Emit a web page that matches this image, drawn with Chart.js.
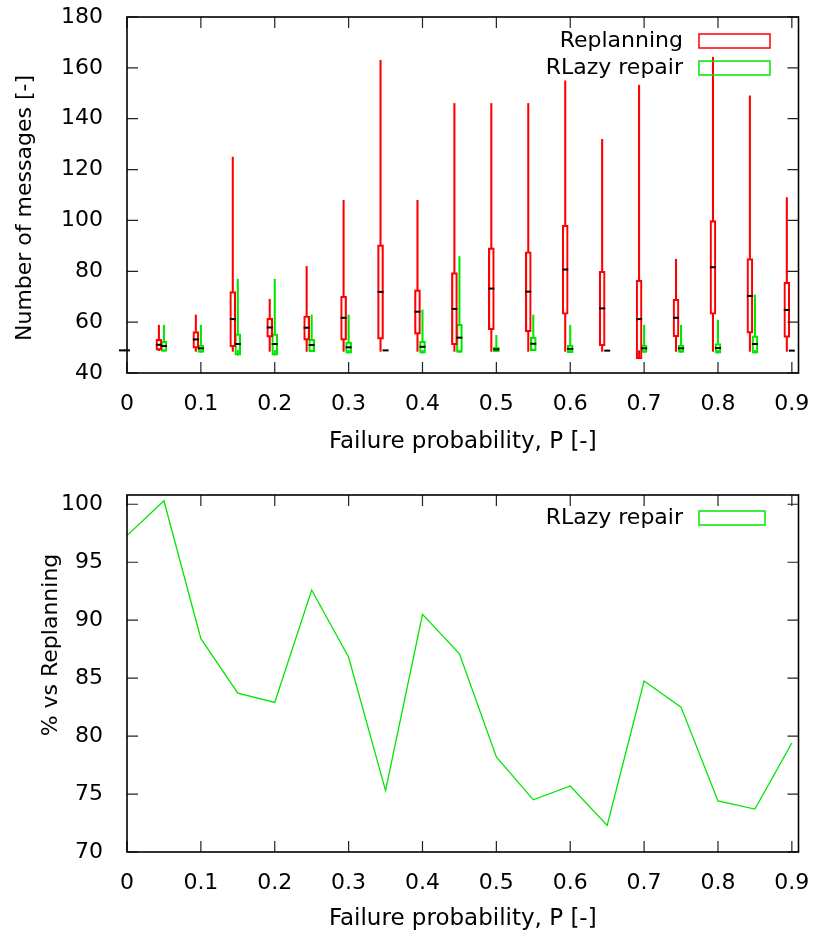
<!DOCTYPE html>
<html>
<head>
<meta charset="utf-8">
<script src="https://cdn.jsdelivr.net/npm/chart.js@4"></script>
<style>
  html, body { margin: 0; padding: 0; background: #fff; }
  #wrap { position: relative; width: 815px; height: 934px; }
  .panel { position: absolute; left: 0; width: 815px; }
  #top { top: 0; height: 460px; }
  #bottom { top: 460px; height: 474px; }
</style>
</head>
<body>
<div id="wrap">
  <div class="panel" id="top"><canvas id="msgChart"></canvas></div>
  <div class="panel" id="bottom"><canvas id="pctChart"></canvas></div>
</div>
<script>
// failure probabilities (x)
const probs = [0, 0.05, 0.1, 0.15, 0.2, 0.25, 0.3, 0.35, 0.4, 0.45, 0.5, 0.55, 0.6, 0.65, 0.7, 0.75, 0.8, 0.85, 0.9];
const xTicks = [0, 0.1, 0.2, 0.3, 0.4, 0.5, 0.6, 0.7, 0.8, 0.9];
const msgTicks = [40, 60, 80, 100, 120, 140, 160, 180];
const pctTicks = [70, 75, 80, 85, 90, 95, 100];

// Replanning: whisker min, box low, median, box high, whisker max
const replanMin = [48.9, 48.8, 48.5, 48.5, 48.5, 48.5, 48.5, 48.5, 48.5, 48.5, 48.5, 48.5, 48.5, 48.5, 48.8, 48.5, 48.5, 48.5, 48.5];
const replanQ1  = [48.9, 49.0, 49.8, 50.3, 54.1, 52.9, 52.9, 53.3, 55.3, 51.1, 57.0, 56.2, 63.1, 50.7, 45.6, 54.2, 63.1, 55.7, 54.0];
const replanMed = [48.9, 51.1, 53.2, 61.2, 57.9, 57.8, 61.7, 71.9, 64.1, 65.2, 73.2, 72.0, 80.7, 65.4, 61.2, 61.7, 81.6, 70.3, 64.8];
const replanQ3  = [48.9, 53.2, 56.3, 72.0, 61.6, 62.4, 70.2, 90.4, 72.7, 79.5, 89.2, 87.7, 98.1, 80.0, 76.5, 69.0, 99.9, 85.0, 75.7];
const replanMax = [48.9, 58.8, 62.8, 124.9, 69.0, 81.9, 107.9, 163.0, 107.9, 146.0, 146.0, 146.0, 154.9, 131.9, 153.2, 84.7, 164.2, 149.0, 109.0];

// RLazy repair
const lazyMin = [48.9, 48.9, 48.9, 48.9, 48.9, 48.9, 48.9, 48.9, 48.9, 48.9, 48.9, 48.9, 48.9, 48.8, 48.9, 48.9, 48.9, 48.9, 48.8];
const lazyQ1  = [48.9, 48.5, 48.1, 47.0, 47.0, 48.4, 47.8, 48.9, 47.8, 48.1, 48.4, 48.8, 48.0, 48.8, 48.1, 48.1, 47.8, 47.8, 48.8];
const lazyMed = [48.9, 50.6, 49.7, 51.4, 51.4, 51.0, 50.1, 48.9, 50.3, 53.9, 49.3, 51.5, 49.5, 48.8, 49.7, 49.7, 49.8, 51.4, 48.8];
const lazyQ3  = [48.9, 52.5, 51.0, 55.4, 55.4, 53.3, 52.2, 48.9, 52.5, 59.2, 50.2, 54.1, 51.0, 48.8, 51.0, 51.0, 51.6, 54.6, 48.8];
const lazyMax = [48.9, 58.8, 58.8, 76.9, 76.9, 62.8, 62.8, 48.9, 64.8, 85.8, 54.8, 62.8, 58.8, 48.8, 58.8, 58.8, 60.8, 70.7, 48.8];

// RLazy repair messages as % of Replanning
const pctLazy = [97.3, 100.3, 88.4, 83.7, 82.9, 92.6, 86.8, 75.3, 90.5, 87.1, 78.2, 74.5, 75.7, 72.3, 84.75, 82.5, 74.4, 73.7, 79.4];

const RED = '#ff0000';
const GREEN = '#00e600';
const RED_SHIFT = -0.0068;   // replanning boxes sit a bit left of the tick
const FONT = "'DejaVu Sans', sans-serif";

Chart.defaults.font.family = FONT;
Chart.defaults.font.size = 22;
Chart.defaults.color = '#000';

function floatBars(lo, hi, shift) {
  return probs.map((p, i) => ({x: p + shift, y: [lo[i], hi[i]]}));
}

// gnuplot-like frame with inward ticks on all four sides, medians, key, y label
const gnuFrame = {
  id: 'gnuFrame',
  afterDatasetsDraw(chart, args, opts) {
    const {ctx, scales: {x, y}} = chart;
    ctx.save();
    ctx.strokeStyle = '#000';
    ctx.lineWidth = 2;
    (opts.medians || []).forEach(s => {
      s.values.forEach((v, i) => {
        const px = x.getPixelForValue(probs[i] + s.shift);
        const py = y.getPixelForValue(v);
        ctx.beginPath();
        ctx.moveTo(px - 3, py);
        ctx.lineTo(px + 3, py);
        ctx.stroke();
      });
    });
    ctx.restore();
  },
  afterDraw(chart, args, opts) {
    const {ctx, chartArea: a, scales: {x, y}} = chart;
    ctx.save();
    ctx.strokeStyle = '#222';
    ctx.lineWidth = 1.2;
    ctx.beginPath();
    x.ticks.forEach(t => {
      const px = x.getPixelForValue(t.value);
      ctx.moveTo(px, a.bottom); ctx.lineTo(px, a.bottom - 11);
      ctx.moveTo(px, a.top); ctx.lineTo(px, a.top + 11);
    });
    y.ticks.forEach(t => {
      const py = y.getPixelForValue(t.value);
      ctx.moveTo(a.left, py); ctx.lineTo(a.left + 11, py);
      ctx.moveTo(a.right, py); ctx.lineTo(a.right - 11, py);
    });
    ctx.stroke();
    ctx.lineWidth = 1.6;
    ctx.strokeStyle = '#000';
    ctx.strokeRect(a.left, a.top, a.width, a.height);

    ctx.fillStyle = '#000';
    ctx.font = '22px ' + FONT;
    ctx.textBaseline = 'middle';

    // y axis label
    if (opts.yLabel) {
      ctx.save();
      ctx.translate(opts.yLabel.x, opts.yLabel.y);
      ctx.rotate(-Math.PI / 2);
      ctx.textAlign = 'center';
      ctx.fillText(opts.yLabel.text, 0, 0);
      ctx.restore();
    }

    // key
    ctx.textAlign = 'right';
    ctx.lineWidth = 1.5;
    (opts.key || []).forEach(k => {
      ctx.fillText(k.label, 683, k.y);
      ctx.strokeStyle = k.color;
      ctx.strokeRect(699, k.y - 7, k.w, 14);
    });
    ctx.restore();
  }
};

const xScale = (titlePad) => ({
  type: 'linear',
  min: 0,
  max: 0.909,
  offset: false,
  grid: {display: false},
  border: {display: false},
  afterBuildTicks: s => { s.ticks = xTicks.map(v => ({value: v})); },
  afterFit: s => { s.height = titlePad.h; s.paddingLeft = 0; s.paddingRight = 0; },
  ticks: {padding: 10, maxRotation: 0, autoSkip: false},
  title: {display: true, text: 'Failure probability, P [-]', font: {size: 23},
          padding: {top: 0, bottom: titlePad.b}}
});

const yScale = (lo, hi, ticks) => ({
  min: lo,
  max: hi,
  grid: {display: false},
  border: {display: false},
  afterBuildTicks: s => { s.ticks = ticks.map(v => ({value: v})); },
  afterFit: s => { s.width = 127; s.paddingTop = 0; s.paddingBottom = 0; },
  ticks: {padding: 16}
});

new Chart(document.getElementById('msgChart'), {
  type: 'bar',
  data: {
    datasets: [
      {data: floatBars(replanQ1, replanQ3, RED_SHIFT), barThickness: 6, borderColor: RED, borderWidth: 1.5,
       backgroundColor: 'rgba(0,0,0,0)', borderSkipped: false, order: 1},
      {data: floatBars(lazyQ1, lazyQ3, 0), barThickness: 6, borderColor: GREEN, borderWidth: 1.5,
       backgroundColor: 'rgba(0,0,0,0)', borderSkipped: false, order: 1},
      {data: floatBars(replanMin, replanQ1, RED_SHIFT), barThickness: 1.4, backgroundColor: RED, order: 2},
      {data: floatBars(replanQ3, replanMax, RED_SHIFT), barThickness: 1.4, backgroundColor: RED, order: 2},
      {data: floatBars(lazyMin, lazyQ1, 0), barThickness: 1.4, backgroundColor: GREEN, order: 2},
      {data: floatBars(lazyQ3, lazyMax, 0), barThickness: 1.4, backgroundColor: GREEN, order: 2}
    ]
  },
  options: {
    responsive: true,
    maintainAspectRatio: false,
    animation: false,
    layout: {padding: {top: 17, right: 16.5, left: 0, bottom: 0}},
    datasets: {bar: {grouped: false, clip: false}},
    scales: {
      x: xScale({h: 87, b: 4}),
      y: yScale(40, 180, msgTicks)
    },
    plugins: {
      legend: {display: false},
      tooltip: {enabled: false},
      gnuFrame: {
        medians: [{values: replanMed, shift: RED_SHIFT}, {values: lazyMed, shift: 0}],
        key: [{label: 'Replanning', color: RED, y: 41, w: 71}, {label: 'RLazy repair', color: GREEN, y: 68, w: 71}],
        yLabel: {text: 'Number of messages [-]', x: 25, y: 208}
      }
    }
  },
  plugins: [gnuFrame]
});

new Chart(document.getElementById('pctChart'), {
  type: 'line',
  data: {
    datasets: [{
      data: probs.map((p, i) => ({x: p, y: pctLazy[i]})),
      borderColor: GREEN,
      borderWidth: 1.3,
      pointRadius: 0,
      tension: 0,
      fill: false
    }]
  },
  options: {
    responsive: true,
    maintainAspectRatio: false,
    animation: false,
    layout: {padding: {top: 35, right: 16.5, left: 0, bottom: 0}},
    scales: {
      x: xScale({h: 82, b: 1}),
      y: yScale(70, 100.8, pctTicks)
    },
    plugins: {
      legend: {display: false},
      tooltip: {enabled: false},
      gnuFrame: {
        key: [{label: 'RLazy repair', color: GREEN, y: 58, w: 66}],
        yLabel: {text: '% vs Replanning', x: 51, y: 185}
      }
    }
  },
  plugins: [gnuFrame]
});
</script>
</body>
</html>
